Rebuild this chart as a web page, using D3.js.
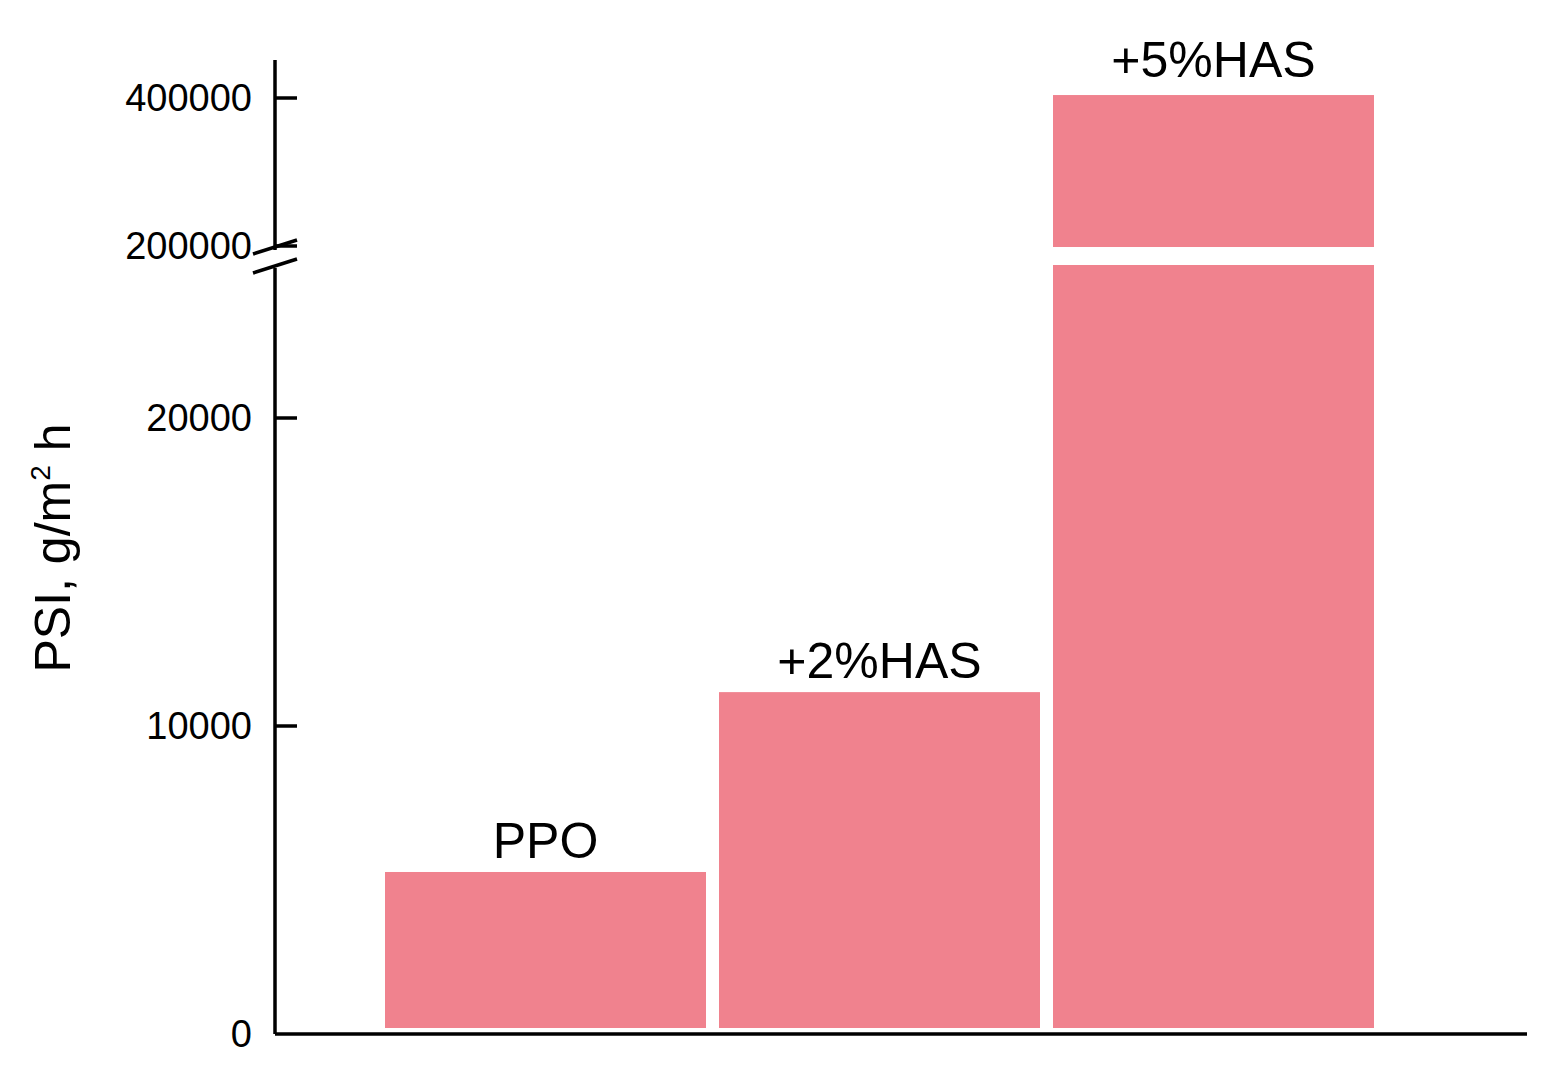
<!DOCTYPE html><html><head><meta charset="utf-8">
<script src="https://cdn.jsdelivr.net/npm/d3@7"></script>
<style>body{margin:0;background:#fff}text{font-family:"Liberation Sans",Arial,sans-serif}</style></head><body>
<svg id="c" width="1552" height="1078"></svg>
<script>
const categories=["PPO","+2%HAS","+5%HAS"];
const values=[5260,11100,404000];
const lowerTicks=[0,10000,20000];
const upperTicks=[200000,400000];
const svg=d3.select("#c");
const color="#f0828e";
const yLow=d3.scaleLinear().domain([0,20000]).range([1034,418]);
const yUp=d3.scaleLinear().domain([200000,400000]).range([246,98]);
const x=d3.scaleBand().domain(categories).range([378.5,1380.5]).paddingInner(0.039).paddingOuter(0.0195);
const lowTop=265, upBottom=247, base=1028;
categories.forEach((c,i)=>{
  const v=values[i];
  if(v<=200000){
    svg.append("rect").attr("x",x(c)).attr("width",x.bandwidth()).attr("y",yLow(v)).attr("height",base-yLow(v)).attr("fill",color);
    svg.append("text").attr("x",x(c)+x.bandwidth()/2).attr("y",yLow(v)-14).attr("text-anchor","middle").attr("font-size",50).text(c);
  } else {
    svg.append("rect").attr("x",x(c)).attr("width",x.bandwidth()).attr("y",lowTop).attr("height",base-lowTop).attr("fill",color);
    svg.append("rect").attr("x",x(c)).attr("width",x.bandwidth()).attr("y",yUp(v)).attr("height",upBottom-yUp(v)).attr("fill",color);
    svg.append("text").attr("x",x(c)+x.bandwidth()/2).attr("y",yUp(v)-18).attr("text-anchor","middle").attr("font-size",50).text(c);
  }
});
const ax=275;
const g=svg.append("g").attr("stroke","#000").attr("stroke-width",3.5);
g.append("line").attr("x1",ax).attr("x2",ax).attr("y1",1034).attr("y2",268);
g.append("line").attr("x1",ax).attr("x2",ax).attr("y1",250).attr("y2",60);
g.append("line").attr("x1",ax).attr("x2",1527).attr("y1",1034).attr("y2",1034);
g.append("line").attr("x1",253).attr("x2",297).attr("y1",254).attr("y2",240);
g.append("line").attr("x1",253).attr("x2",297).attr("y1",273).attr("y2",259);
function ticks(scale,arr){arr.forEach(t=>{
  const y=scale(t);
  if(t>0) g.append("line").attr("x1",ax).attr("x2",ax+22).attr("y1",y).attr("y2",y);
  svg.append("text").attr("x",252).attr("y",y+13).attr("text-anchor","end").attr("font-size",38).text(t);
});}
ticks(yLow,lowerTicks);ticks(yUp,upperTicks);
const yt=svg.append("text").attr("transform","translate(70,548) rotate(-90)").attr("text-anchor","middle").attr("font-size",50);
yt.append("tspan").text("PSI, g/m");
yt.append("tspan").attr("font-size",28).attr("dy",-20).text("2");
yt.append("tspan").attr("dy",20).text(" h");
</script></body></html>
